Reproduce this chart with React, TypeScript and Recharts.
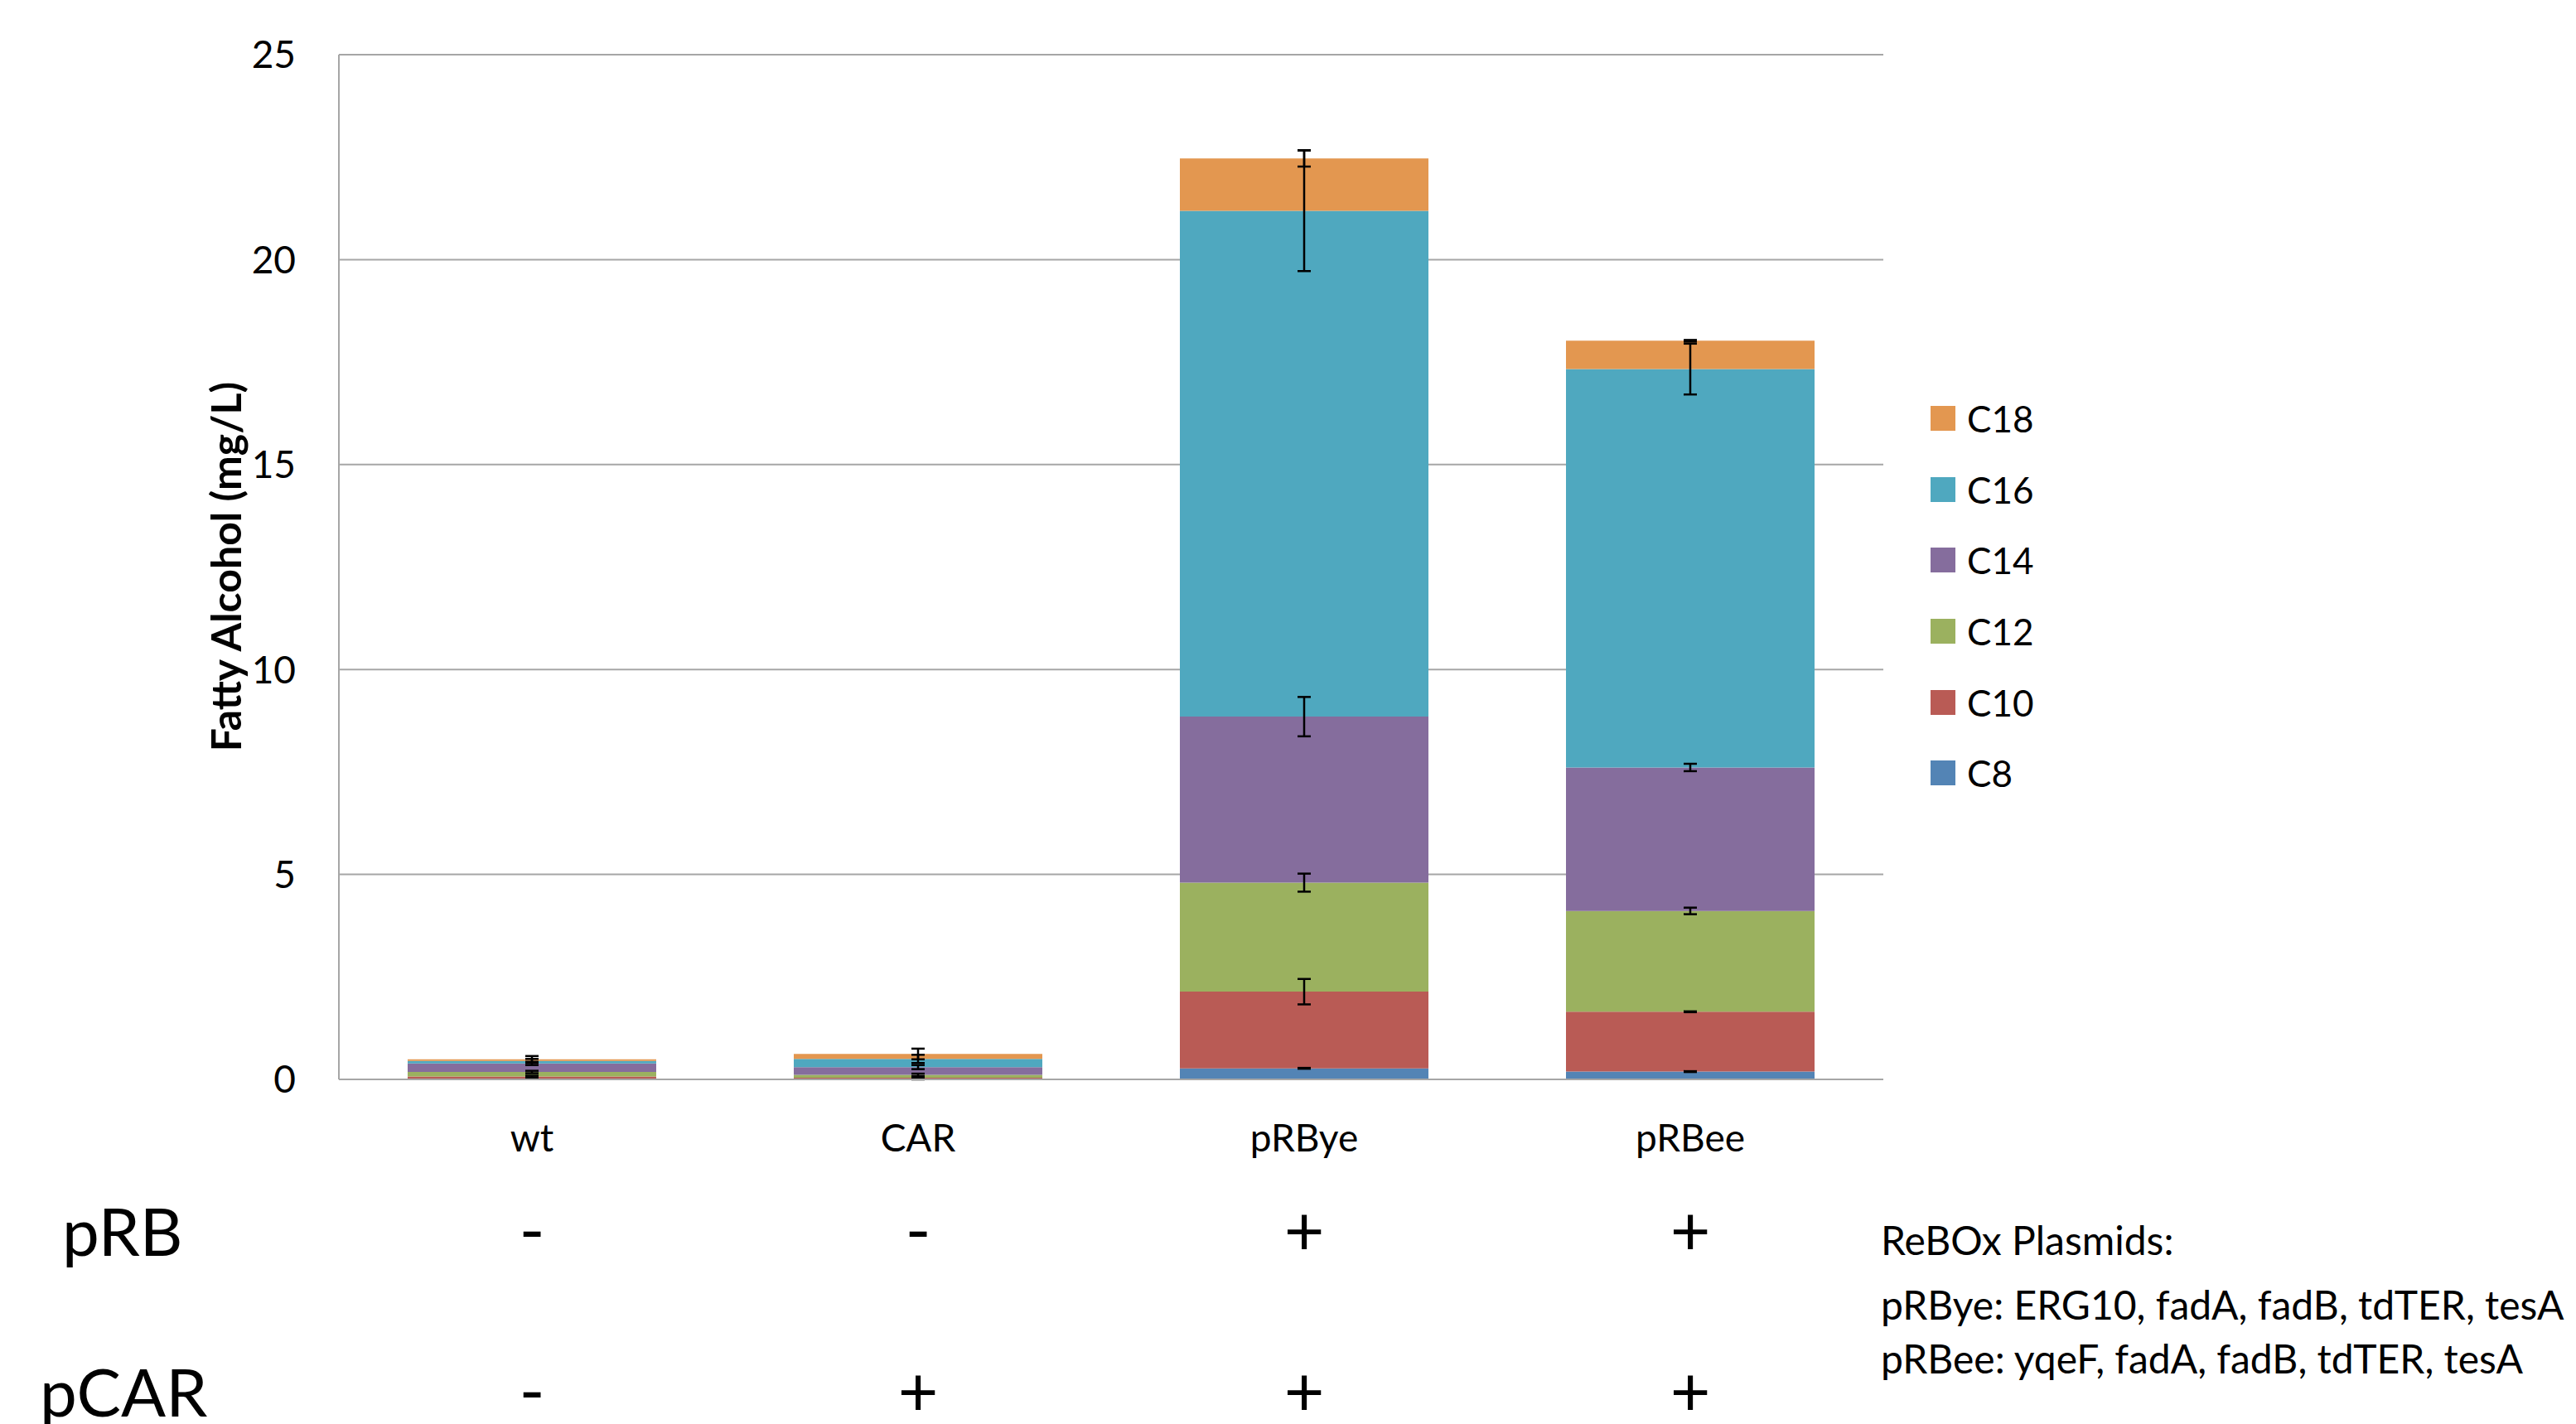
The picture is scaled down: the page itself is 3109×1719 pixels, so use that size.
import {
  ComposedChart,
  Bar,
  Scatter,
  XAxis,
  YAxis,
  CartesianGrid,
  Legend,
  ErrorBar,
} from "recharts";

const W = 3109;
const H = 1719;
const FONT = "Lato, 'Open Sans', sans-serif";

// categories and the plasmid table below the axis
const categories = ["wt", "CAR", "pRBye", "pRBee"];
const pRB = ["-", "-", "+", "+"];
const pCAR = ["-", "+", "+", "+"];

// fatty alcohol per chain length (mg/L)
const c8 = [0.02, 0.01, 0.27, 0.19];
const c10 = [0.05, 0.03, 1.87, 1.46];
const c12 = [0.11, 0.07, 2.66, 2.46];
const c14 = [0.21, 0.19, 4.05, 3.5];
const c16 = [0.06, 0.2, 12.34, 9.72];
const c18 = [0.04, 0.12, 1.28, 0.69];

// error bars (±)
const c8Err = [0.01, 0.01, 0.01, 0.01];
const c10Err = [0.02, 0.02, 0.31, 0.01];
const c12Err = [0.03, 0.03, 0.22, 0.08];
const c14Err = [0.04, 0.05, 0.48, 0.09];
const c16Err = [0.05, 0.1, 1.47, 0.62];
const c18Err = [0.08, 0.13, 0.2, 0.02];

const yTicks = [0, 5, 10, 15, 20, 25];

const series = [
  { key: "C8", values: c8, errors: c8Err, color: "#5384b5" },
  { key: "C10", values: c10, errors: c10Err, color: "#b95b55" },
  { key: "C12", values: c12, errors: c12Err, color: "#9bb15f" },
  { key: "C14", values: c14, errors: c14Err, color: "#856d9d" },
  { key: "C16", values: c16, errors: c16Err, color: "#4fa8bf" },
  { key: "C18", values: c18, errors: c18Err, color: "#e39750" },
];

const data = categories.map((name, i) => {
  const row: Record<string, any> = { name };
  let sum = 0;
  series.forEach((s) => {
    sum += s.values[i];
    row[s.key] = s.values[i];
    row[s.key + "Top"] = sum; // stacked top, for the error bar overlay
    row[s.key + "Err"] = s.errors[i];
  });
  return row;
});

const CategoryTick = (props: any) => {
  const { x, y, payload, index } = props;
  return (
    <g fontFamily={FONT} fill="#000">
      <text x={x} y={y + 87} textAnchor="middle" fontSize={46}>
        {payload.value}
      </text>
      <text x={x} y={y + 212} textAnchor="middle" fontSize={84}>
        {pRB[index]}
      </text>
      <text x={x} y={y + 406} textAnchor="middle" fontSize={84}>
        {pCAR[index]}
      </text>
    </g>
  );
};

const renderLegend = () => (
  <div style={{ fontFamily: FONT }}>
    {[...series].reverse().map((s) => (
      <div
        key={s.key}
        style={{ display: "flex", alignItems: "center", height: 85.7 }}
      >
        <div style={{ width: 30, height: 30, background: s.color }} />
        <span style={{ marginLeft: 14, fontSize: 44, color: "#000" }}>
          {s.key}
        </span>
      </div>
    ))}
  </div>
);

export default function App() {
  return (
    <div
      style={{
        position: "absolute",
        left: 0,
        top: 0,
        width: W,
        height: H,
        background: "#fff",
        overflow: "hidden",
      }}
    >
      <ComposedChart
        width={W}
        height={H}
        data={data}
        margin={{ top: 66, right: 836, bottom: 16, left: 289 }}
      >
        <CartesianGrid vertical={false} stroke="#a6a6a6" strokeWidth={2} />
        <XAxis
          dataKey="name"
          height={400}
          axisLine={{ stroke: "#a6a6a6", strokeWidth: 2 }}
          tickLine={false}
          tickSize={0}
          tickMargin={0}
          tick={<CategoryTick />}
          interval={0}
        />
        <YAxis
          width={120}
          domain={[0, 25]}
          ticks={yTicks}
          axisLine={{ stroke: "#a6a6a6", strokeWidth: 2 }}
          tickLine={false}
          tickSize={0}
          tickMargin={52}
          tick={{ fontSize: 46, fill: "#000", fontFamily: FONT }}
        />
        {series.map((s) => (
          <Bar
            key={s.key}
            dataKey={s.key}
            stackId="a"
            fill={s.color}
            barSize={300}
            isAnimationActive={false}
          />
        ))}
        {series.map((s) => (
          <Scatter
            key={s.key + "err"}
            dataKey={s.key + "Top"}
            legendType="none"
            shape={() => <g />}
            isAnimationActive={false}
          >
            <ErrorBar
              dataKey={s.key + "Err"}
              direction="y"
              width={8}
              stroke="#000"
              strokeWidth={2.5}
            />
          </Scatter>
        ))}
        <Legend
          layout="vertical"
          align="center"
          verticalAlign="middle"
          wrapperStyle={{ left: 2330, top: 462, width: 300 }}
          content={renderLegend}
        />
      </ComposedChart>
      <svg
        width={W}
        height={H}
        style={{ position: "absolute", left: 0, top: 0, pointerEvents: "none" }}
        fontFamily={FONT}
      >
        <text
          x={272}
          y={684}
          transform="rotate(-90 272 684)"
          textAnchor="middle"
          dominantBaseline="central"
          fontSize={50}
          fontWeight={700}
          fill="#000"
        >
          Fatty Alcohol (mg/L)
        </text>
        <text x={75} y={1516} fontSize={80} fill="#000">
          pRB
        </text>
        <text x={48} y={1710} fontSize={80} fill="#000">
          pCAR
        </text>
        <text x={2270} y={1515} fontSize={48} fill="#000">
          ReBOx Plasmids:
        </text>
        <text x={2270} y={1593} fontSize={48} fill="#000">
          pRBye: ERG10, fadA, fadB, tdTER, tesA
        </text>
        <text x={2270} y={1658} fontSize={48} fill="#000">
          pRBee: yqeF, fadA, fadB, tdTER, tesA
        </text>
      </svg>
    </div>
  );
}
